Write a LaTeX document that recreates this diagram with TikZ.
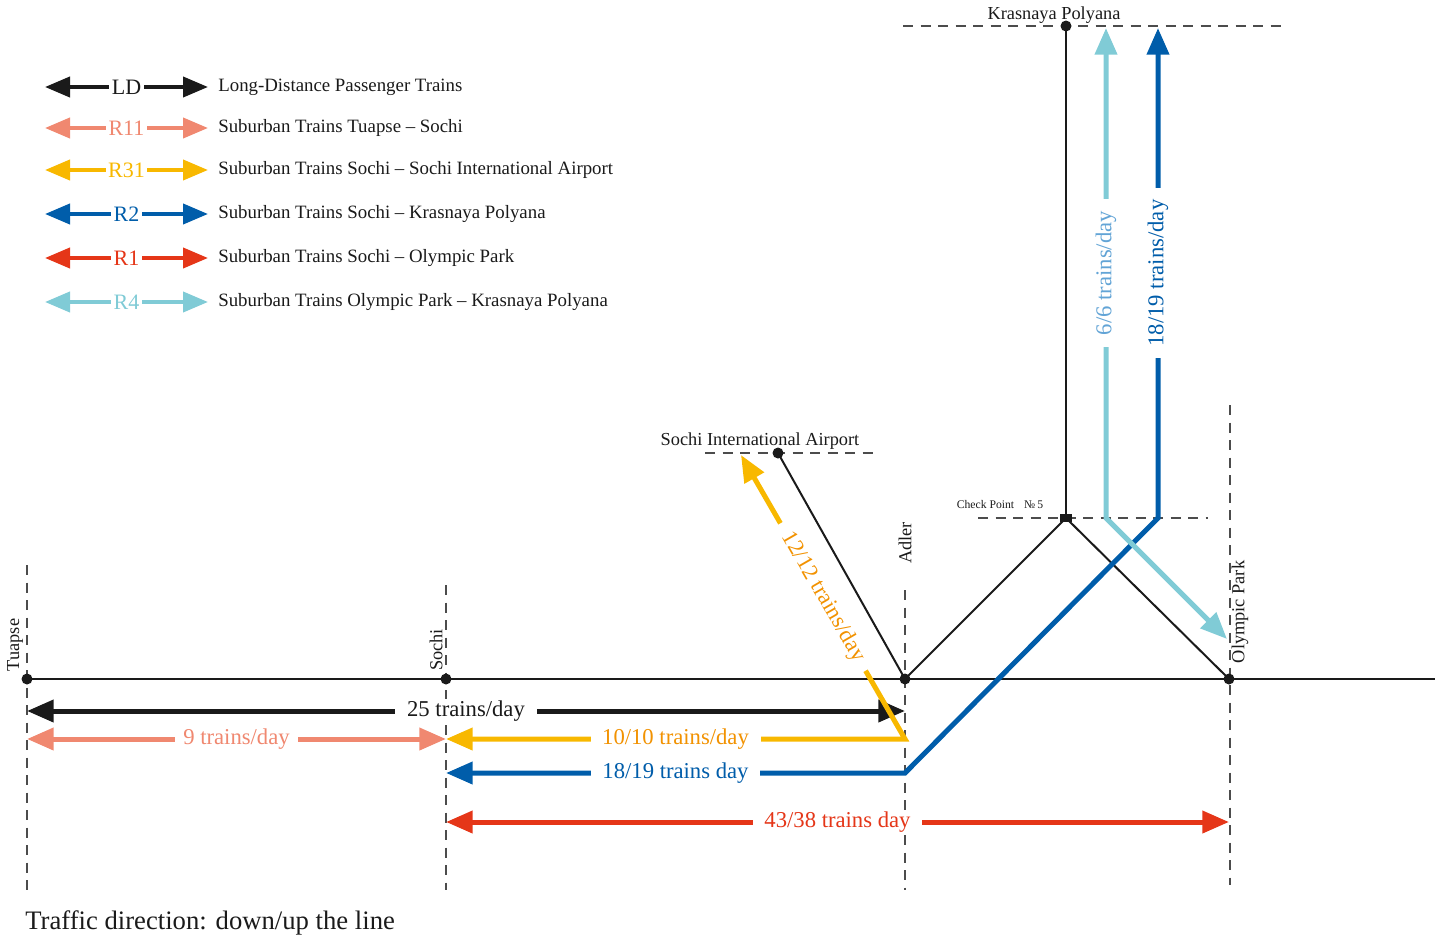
\documentclass[tikz,border=0pt]{standalone}
\usepackage{fontspec}
\setmainfont{Liberation Serif}
\usetikzlibrary{arrows.meta}

\definecolor{ldblack}{RGB}{26,26,26}
\definecolor{rsalmon}{RGB}{240,136,112}
\definecolor{ryellow}{RGB}{248,184,0}
\definecolor{rorange}{RGB}{242,146,0}
\definecolor{rblue}{RGB}{0,93,170}
\definecolor{rred}{RGB}{229,54,24}
\definecolor{rlight}{RGB}{128,203,214}
\definecolor{rlighttext}{RGB}{98,164,214}

\begin{document}
\begin{tikzpicture}[x=0.6pt,y=-0.6pt,
		station/.style={circle,fill=ldblack,inner sep=0pt,minimum size=6.6pt},
		track/.style={draw=ldblack,line width=1.2pt},
		guide/.style={draw=black!70,line width=0.8pt,dash pattern=on 6pt off 4.5pt},
		flows/.style={line width=3pt,{Triangle[length=16pt,width=13pt]}-{Triangle[length=16pt,width=13pt]}},
		flowlabel/.style={fill=white,inner xsep=7pt,inner ysep=1pt,font=\fontsize{13.6}{15}\selectfont},
		keyarrow/.style={line width=2.4pt,{Triangle[length=15pt,width=12pt]}-{Triangle[length=15pt,width=12pt]}},
		keylabel/.style={fill=white,inner xsep=1.5pt,inner ysep=0pt,font=\fontsize{13.2}{15}\selectfont},
		keytext/.style={anchor=west,inner sep=0pt,text=ldblack,font=\fontsize{11.3}{13}\selectfont},
		stationname/.style={text=ldblack,font=\fontsize{11}{13}\selectfont}]

		\useasboundingbox (0,0) rectangle (1441,940);

		% legend
		\foreach \y/\col/\tagname/\txt [count=\i] in {
				87/ldblack/LD/Long-Distance Passenger Trains,
				128/rsalmon/R11/Suburban Trains Tuapse -- Sochi,
				170/ryellow/R31/Suburban Trains Sochi -- Sochi International Airport,
				214/rblue/R2/Suburban Trains Sochi -- Krasnaya Polyana,
				258/rred/R1/Suburban Trains Sochi -- Olympic Park,
				302/rlight/R4/Suburban Trains Olympic Park -- Krasnaya Polyana}{
			\coordinate (kw\i) at (45,\y);
			\coordinate (ke\i) at (208,\y);
			\draw[keyarrow,color=\col] (kw\i) -- node[keylabel] (kt\i) {\tagname} (ke\i);
			\node[keytext] (key\i) at (218,\y) {\txt};
		}

		% stations
		\coordinate (tuapse) at (27,679);
		\coordinate (sochi) at (446,679);
		\coordinate (adler) at (905,679);
		\coordinate (olympic) at (1229,679);
		\coordinate (airport) at (778,453);
		\coordinate (krasnaya) at (1066,26);
		\coordinate (checkpoint) at (1066,518);
		\coordinate (linew) at (25,679);
		\coordinate (linee) at (1435,679);

		% guides
		\draw[guide] (27,565) -- (27,890);
		\draw[guide] (446,585) -- (446,890);
		\draw[guide] (905,590) -- (905,890);
		\draw[guide] (1230,405) -- (1230,885);
		\draw[guide] (705,453) -- (875,453);
		\draw[guide] (903,26) -- (1285,26);
		\draw[guide] (978,518) -- (1208,518);

		% tracks
		\draw[draw=ldblack,line width=1.5pt] (linew) -- (linee);
		\draw[track] (adler) -- (airport);
		\draw[track] (adler) -- (checkpoint) -- (olympic);
		\draw[track] (checkpoint) -- (krasnaya);

		% flows
		\coordinate (ldw) at (27,711);
		\coordinate (lde) at (905,711);
		\coordinate (r11w) at (27,739);
		\coordinate (r11e) at (446,739);
		\coordinate (r31w) at (446,739);
		\coordinate (r31c) at (905,739);
		\coordinate (r31n) at (741,455);
		\coordinate (r2w) at (446,773);
		\coordinate (r2c) at (905,773);
		\coordinate (r2k) at (1158,518);
		\coordinate (r2n) at (1158,28);
		\coordinate (r4n) at (1106,28);
		\coordinate (r4k) at (1106,518);
		\coordinate (r4e) at (1227,639);
		\coordinate (r1w) at (446,822);
		\coordinate (r1e) at (1229,822);

		\draw[flows,ldblack] (ldw) -- node[flowlabel] (ldlbl) {25 trains/day} (lde);
		\draw[flows,rsalmon] (r11w) -- node[flowlabel,inner xsep=5pt] (r11lbl) {9 trains/day} (r11e);
		\draw[flows,ryellow] (r31n) -- node[flowlabel,sloped,text=rorange] (r31lbla) {12/12 trains/day} (r31c)
			-- node[flowlabel,text=rorange] (r31lblb) {10/10 trains/day} (r31w);
		\draw[flows,rblue] (r2n) -- node[flowlabel,rotate=90] (r2lbla) {18/19 trains/day} (r2k)
			-- (r2c) -- node[flowlabel] (r2lblb) {18/19 trains day} (r2w);
		\draw[flows,rlight] (r4n) -- node[flowlabel,rotate=90,text=rlighttext] (r4lbl) {6/6 trains/day} (r4k) -- (r4e);
		\draw[flows,rred] (r1w) -- node[flowlabel] (r1lbl) {43/38 trains day} (r1e);

		% station marks
		\foreach \s in {tuapse,sochi,adler,olympic,airport,krasnaya}
			\node[station] (dot\s) at (\s) {};
		\node[fill=ldblack,inner sep=0pt,minimum width=7pt,minimum height=5pt] (dotcheck) at (checkpoint) {};

		% names
		\node[stationname,rotate=90] (tuapselbl) at (15,645) {Tuapse};
		\node[stationname,rotate=90] (sochilbl) at (436,650) {Sochi};
		\node[stationname,rotate=90] (adlerlbl) at (905,543) {Adler};
		\node[stationname,rotate=90] (olympiclbl) at (1240,612) {Olympic Park};
		\node[stationname] (airportlbl) at (760,441) {Sochi International Airport};
		\node[stationname] (krasnayalbl) at (1054,15) {Krasnaya Polyana};
		\node[stationname,font=\fontsize{7}{8}\selectfont] (checklbl) at (1000,505) {Check Point\hspace{6pt}№\,5};

		\node[anchor=west,inner sep=0pt,text=ldblack,font=\fontsize{16}{18}\selectfont] (note) at (25,923) {Traffic direction: down/up the line};

\end{tikzpicture}
\end{document}
